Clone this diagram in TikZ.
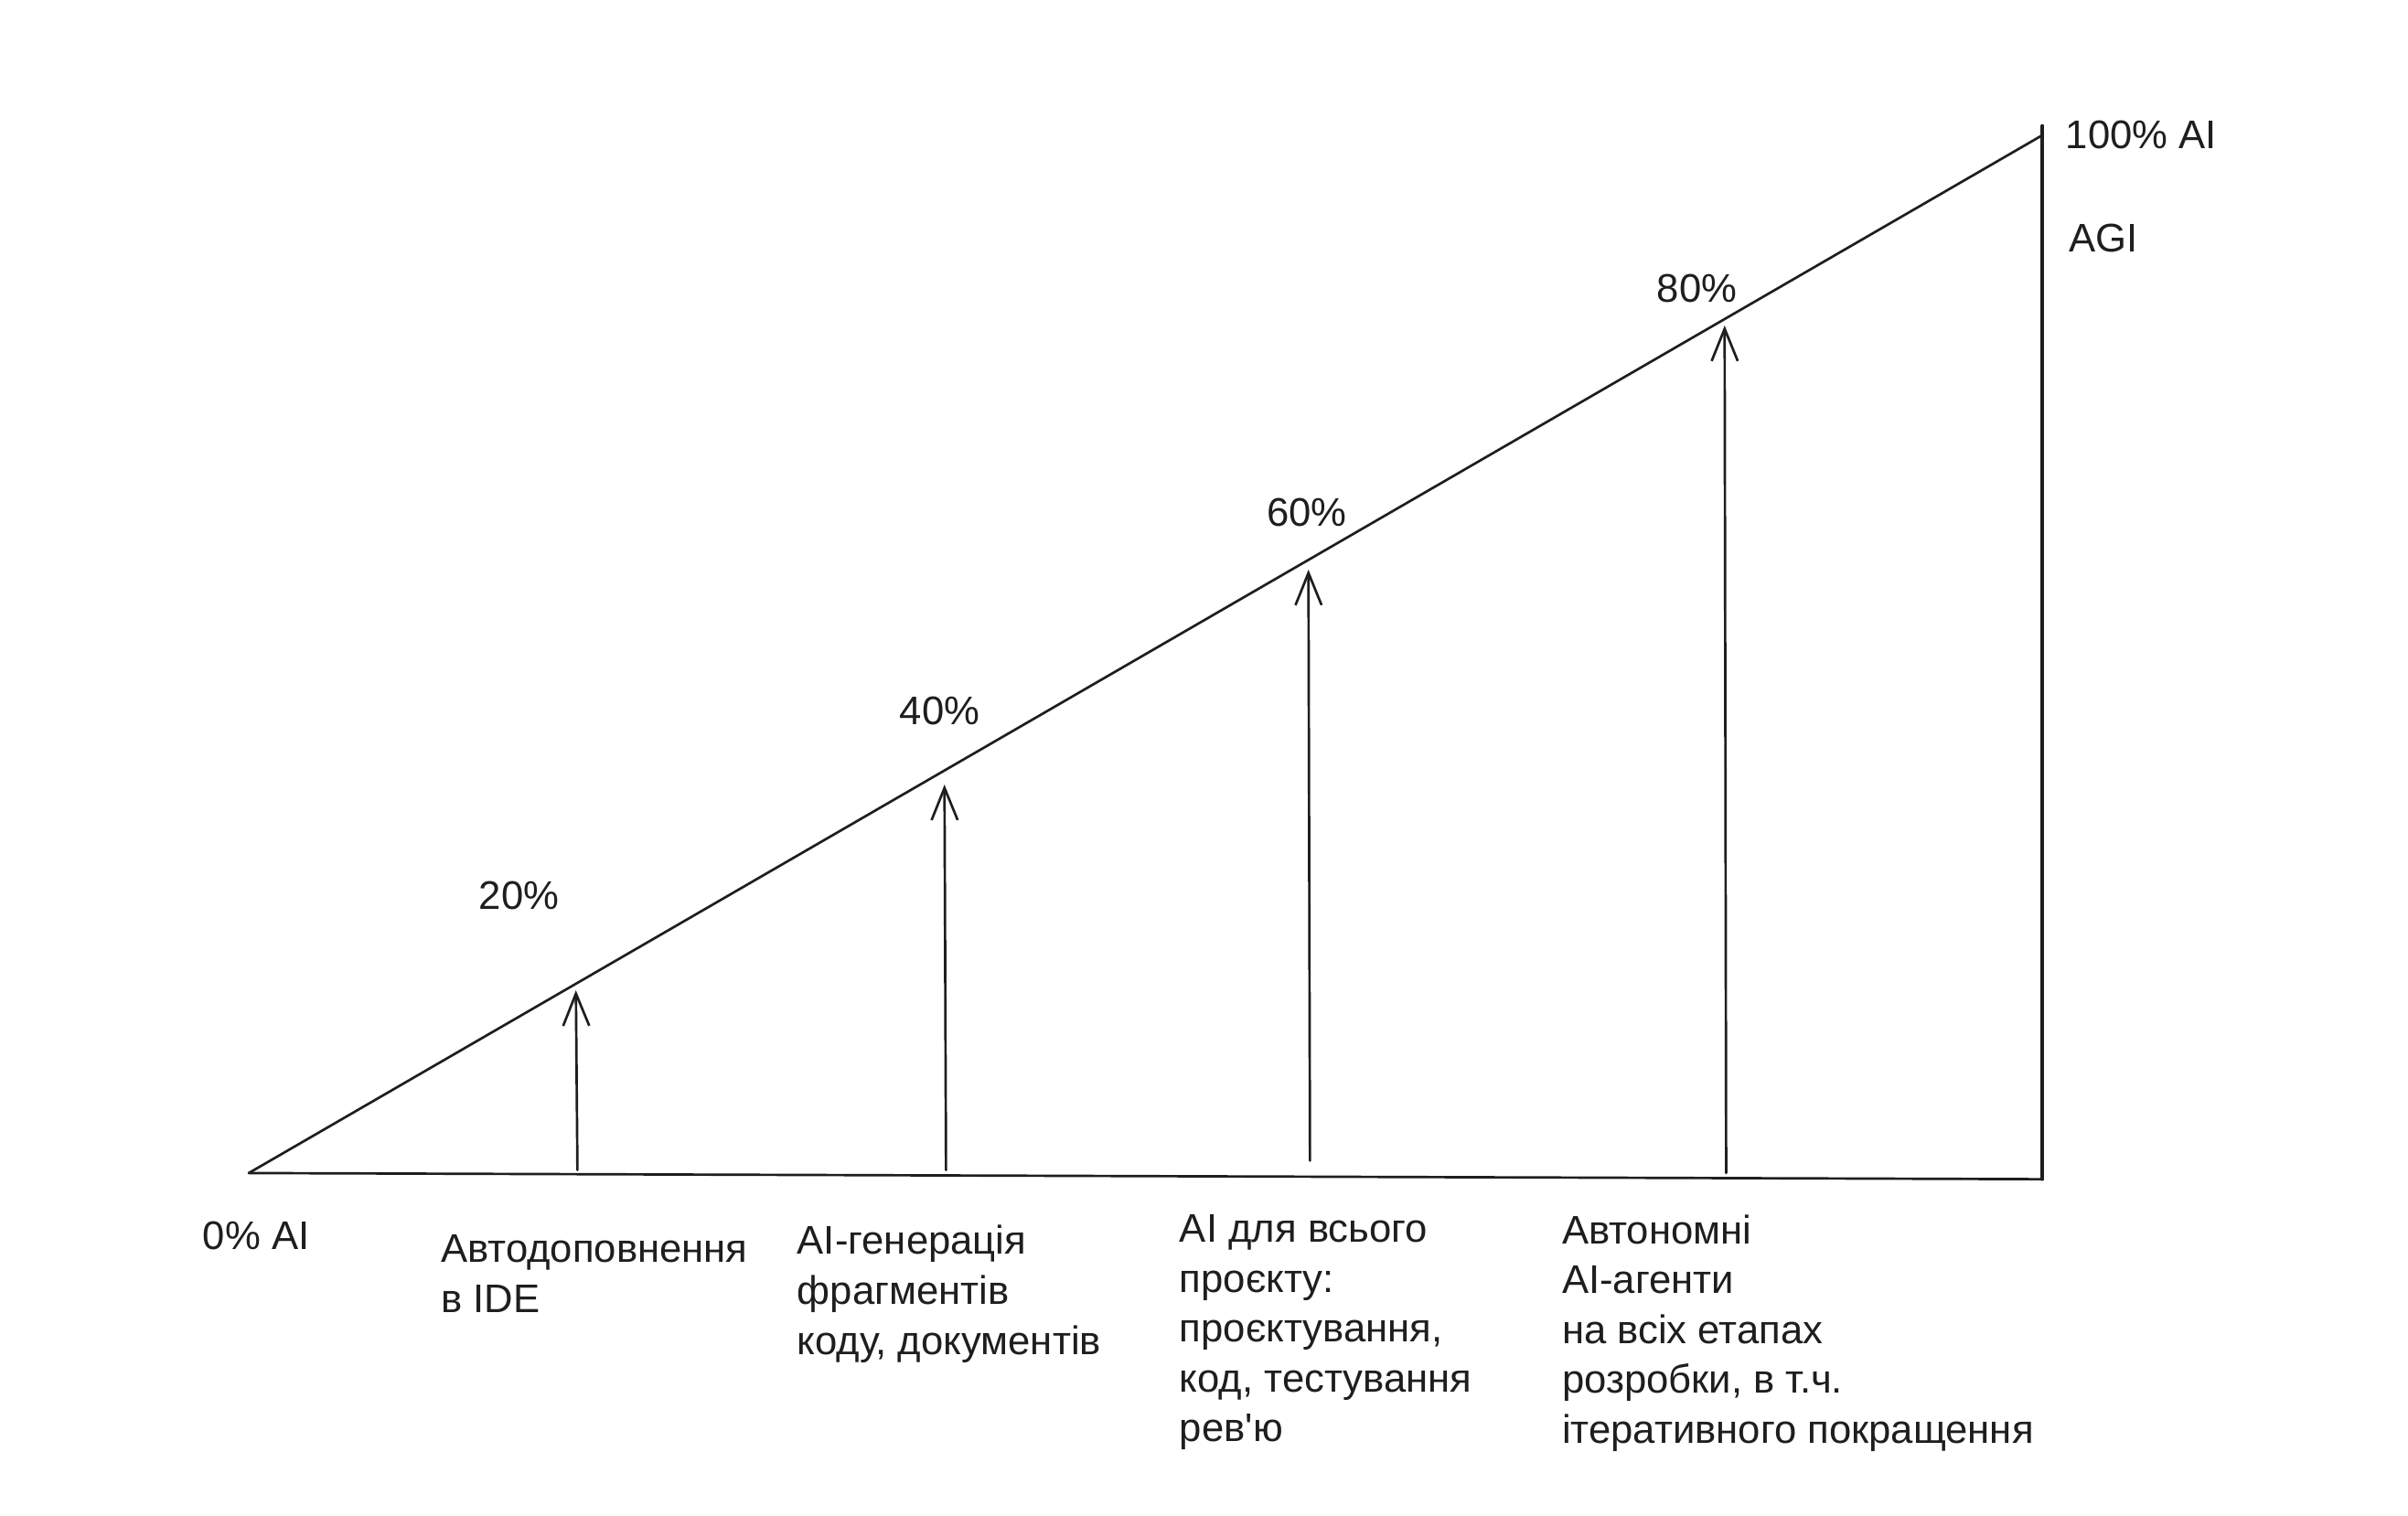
\documentclass[tikz,border=0pt]{standalone}
\usepackage{fontspec}
\setmainfont{Liberation Sans}
\usetikzlibrary{arrows.meta}
\definecolor{ink}{HTML}{1E1E1E}
\begin{document}
\begin{tikzpicture}[x=1pt,y=-1pt,
  edge/.style={line width=1.6pt, draw=ink, line cap=round, line join=round},
  uparrow/.style={edge, -{Straight Barb[length=21pt,width=17pt]}},
  lbl/.style={inner sep=0pt, font=\fontsize{26}{32.5}\selectfont, text=ink},
  blk/.style={lbl, align=left, anchor=north west}]
\useasboundingbox (0,0) rectangle (1568,987);
% triangle corners
\coordinate (bl) at (162,764);
\coordinate (br) at (1330,768);
\coordinate (tr) at (1330,88);
\coordinate (trtop) at (1330,82);
\draw[edge] (bl) -- (tr);
\draw[edge] (bl) -- (br);
\draw[edge, line width=2.3pt] (trtop) -- (br);
% arrows
\coordinate (b1) at (376,762); \coordinate (t1) at (375,645);
\coordinate (b2) at (616,762); \coordinate (t2) at (615,511);
\coordinate (b3) at (853,756); \coordinate (t3) at (852,371);
\coordinate (b4) at (1124,764); \coordinate (t4) at (1123,212);
\draw[uparrow] (b1) -- (t1);
\draw[uparrow] (b2) -- (t2);
\draw[uparrow] (b3) -- (t3);
\draw[uparrow] (b4) -- (t4);
% percent labels
\node[lbl] (p20) at (338,583) {20\%};
\node[lbl] (p40) at (612,463) {40\%};
\node[lbl] (p60) at (851,334) {60\%};
\node[lbl] (p80) at (1105,188) {80\%};
\node[lbl, anchor=west] (p100) at (1345,88) {100\% AI};
\node[lbl, anchor=west] (agi) at (1347,155) {AGI};
\node[lbl, anchor=west] (p0) at (132,805) {0\% AI};
% bottom blocks
\node[blk] (s1) at (287,804) {Автодоповнення\\в IDE};
\node[blk] (s2) at (519,798) {AI-генерація\\фрагментів\\коду, документів};
\node[blk] (s3) at (768,791) {AI для всього\\проєкту:\\проєктування,\\код, тестування\\рев\textquotesingle ю};
\node[blk] (s4) at (1017,791) {Автономні\\AI-агенти\\на всіх етапах\\розробки, в т.ч.\\ітеративного покращення};
\end{tikzpicture}
\end{document}
